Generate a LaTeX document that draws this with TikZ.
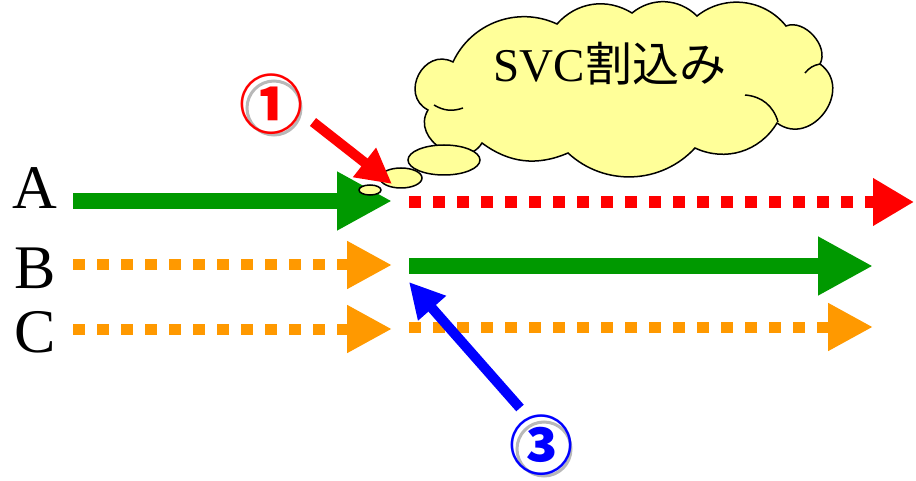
\documentclass[tikz,border=0pt]{standalone}
\usepackage{fontspec}
\setmainfont{Liberation Serif}
\newfontfamily\jp{Noto Sans CJK JP}
\usetikzlibrary{arrows.meta,shapes.geometric}
\definecolor{grn}{HTML}{009900}
\definecolor{org}{HTML}{FF9900}
\definecolor{cloudy}{HTML}{FFFF99}
\definecolor{shadowgray}{HTML}{B8B8B8}
\begin{document}
\begin{tikzpicture}[x=1pt,y=1pt,
  solidgreen/.style={line width=16pt, grn, -{Triangle[length=55pt,width=55pt]}},
  dotorange/.style={line width=11pt, org, dash pattern=on 12pt off 12pt, -{Triangle[length=45pt,width=45pt]}},
  dotred/.style={line width=12pt, red, dash pattern=on 12pt off 12pt, -{Triangle[length=41pt,width=45pt]}},
  pointer/.style={line width=10pt, -{Triangle[length=35pt,width=35pt]}},
  cloudline/.style={draw=black, line width=1.5pt, fill=cloudy},
  innerarc/.style={draw=black, line width=1.5pt},
  bubble/.style={ellipse, cloudline, inner sep=0pt},
  rowlabel/.style={anchor=base, inner sep=0pt, font=\fontsize{62}{70}\selectfont},
  circnum/.style={inner sep=0pt, font=\jp\bfseries\fontsize{64}{64}\selectfont},
  ringshadow/.style={draw=shadowgray, line width=3pt}]
\useasboundingbox (0,0) rectangle (916,-481);

% row labels
\node[rowlabel] (lA) at (35,-209) {A};
\node[rowlabel] (lB) at (35,-288) {B};
\node[rowlabel] (lC) at (35,-352) {C};

% coordinates of the timeline arrows
\coordinate (a1s) at (73,-201);  \coordinate (a1e) at (392,-201);
\coordinate (a2s) at (409,-202); \coordinate (a2e) at (914,-202);
\coordinate (b1s) at (73,-265);  \coordinate (b1e) at (392,-265);
\coordinate (b2s) at (409,-266); \coordinate (b2e) at (873,-266);
\coordinate (c1s) at (73,-329);  \coordinate (c1e) at (392,-329);
\coordinate (c2s) at (409,-327); \coordinate (c2e) at (873,-327);

\draw[solidgreen] (a1s) -- (a1e);
\draw[dotred] (a2s) -- (a2e);
\draw[dotorange] (b1s) -- (b1e);
\draw[solidgreen] (b2s) -- (b2e);
\draw[dotorange] (c1s) -- (c1e);
\draw[dotorange] (c2s) -- (c2e);

% thought cloud
\draw[cloudline] (428,-110) to[bend left=90,looseness=1.55] (453,-62)
  to[bend left=45] (557,-24) to[bend left=40] (632,-13)
  to[bend left=42] (697,-16) to[bend left=45] (786,-26)
  to[bend left=70] (820,-64) to[bend left=90,looseness=1.5] (777,-123)
  to[bend left=42] (695,-148) to[bend left=45] (568,-153)
  to[bend left=30] (482,-143) to[bend left=90,looseness=1.4] cycle;
\draw[innerarc] (434,-105) to[bend right=25] (463,-108);
\draw[innerarc] (745,-95) to[bend left=35] (778,-122);
\draw[innerarc] (820,-64) to[bend right=20] (805,-73);
\node[anchor=base, inner sep=0pt, font=\fontsize{47}{56}\selectfont] (ctext) at (610,-82) {SVC{\jp 割込み}};

\node[bubble, minimum width=72pt, minimum height=30pt] (bub1) at (444,-160) {};
\node[bubble, minimum width=42pt, minimum height=20pt] (bub2) at (401,-178) {};
\node[bubble, minimum width=22pt, minimum height=10pt] (bub3) at (370,-190) {};

% pointer arrows
\coordinate (r1s) at (313,-122); \coordinate (r1e) at (392,-184);
\draw[pointer, red] (r1s) -- (r1e);
\coordinate (u3s) at (520,-408); \coordinate (u3e) at (409,-282);
\draw[pointer, blue] (u3s) -- (u3e);

% circled numbers with a light shadow ring
\draw[ringshadow] (274,-108) circle [radius=27];
\node[circnum, text=red] (n1) at (271,-104) {①};
\draw[ringshadow] (544,-449) circle [radius=27];
\node[circnum, text=blue] (n3) at (541,-445) {③};
\end{tikzpicture}
\end{document}
